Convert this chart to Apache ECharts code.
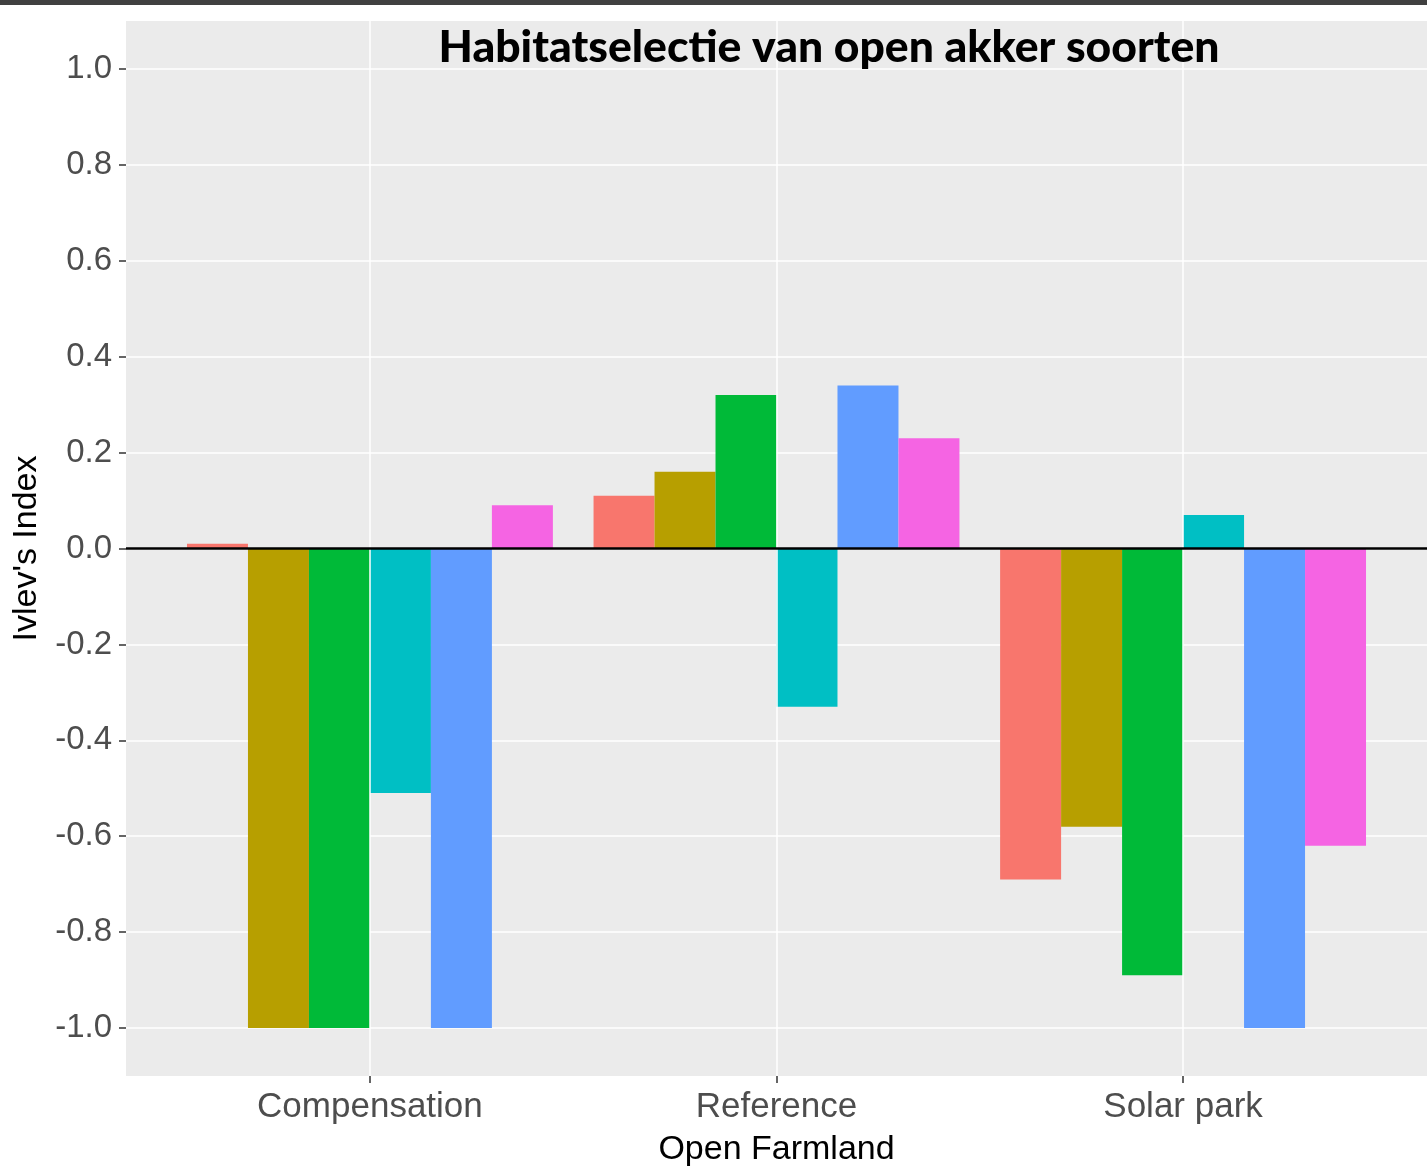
<!DOCTYPE html>
<html>
<head>
<meta charset="utf-8">
<script src="https://cdn.jsdelivr.net/npm/echarts@6/dist/echarts.min.js"></script>
<style>
html,body{margin:0;padding:0;background:#fff;}
#c{width:1427px;height:1166px;}
</style>
</head>
<body>
<div id="c"></div>
<script>
const categories = ['Compensation', 'Reference', 'Solar park'];
const seriesNames = ['Soort 1', 'Soort 2', 'Soort 3', 'Soort 4', 'Soort 5', 'Soort 6'];
const s1 = [0.01, 0.11, -0.69];
const s2 = [-1.0, 0.16, -0.58];
const s3 = [-1.0, 0.32, -0.89];
const s4 = [-0.51, -0.33, 0.07];
const s5 = [-1.0, 0.34, -1.0];
const s6 = [0.09, 0.23, -0.62];
const yTicks = [-1.0, -0.8, -0.6, -0.4, -0.2, 0.0, 0.2, 0.4, 0.6, 0.8, 1.0];
const colors = ['#F8766D', '#B79F00', '#00BA38', '#00BFC4', '#619CFF', '#F564E3'];
const allValues = [s1, s2, s3, s4, s5, s6];

const chart = echarts.init(document.getElementById('c'), null, {renderer: 'canvas'});

const barSeries = allValues.map((vals, k) => ({
  name: seriesNames[k],
  type: 'bar',
  z: 2,
  barGap: '0%',
  barCategoryGap: '10%',
  itemStyle: {color: colors[k]},
  data: categories.map((c, i) => [i, vals[i]])
}));

const option = {
  animation: false,
  title: {
    text: 'Habitatselectie van open akker soorten',
    left: 824,
    top: 20,
    textAlign: 'center',
    textStyle: {fontFamily: 'Lato', fontWeight: 900, fontSize: 44.5, color: '#000'}
  },
  graphic: [{
    type: 'rect', left: 0, top: 0, shape: {width: 1427, height: 5}, style: {fill: '#404040'}
  }],
  grid: {
    left: 126, right: 0, top: 21, bottom: 90,
    outerBoundsMode: 'none',
    containLabel: false,
    show: true, backgroundColor: '#EBEBEB', borderWidth: 0
  },
  xAxis: {
    type: 'value',
    min: -0.6, max: 2.6,
    name: 'Open Farmland',
    nameLocation: 'middle',
    nameGap: 57,
    nameTextStyle: {fontFamily: 'Liberation Sans', fontSize: 34, color: '#000'},
    axisLine: {show: false, onZero: false},
    splitLine: {show: false},
    axisTick: {show: true, customValues: [0, 1, 2], length: 7, lineStyle: {color: '#333', width: 1.5}},
    axisLabel: {
      customValues: [0, 1, 2],
      formatter: v => categories[Math.round(v)],
      fontFamily: 'Liberation Sans', fontSize: 35, color: '#4D4D4D', margin: 14
    }
  },
  yAxis: {
    type: 'value',
    min: -1.1, max: 1.1, interval: 0.1,
    name: "Ivlev's Index",
    nameLocation: 'middle',
    nameGap: 82,
    nameTextStyle: {fontFamily: 'Liberation Sans', fontSize: 34, color: '#000'},
    axisLine: {show: false, onZero: false},
    splitLine: {show: true, lineStyle: {color: '#FFFFFF', width: 1.5}},
    axisTick: {show: true, customValues: yTicks, length: 7, lineStyle: {color: '#333', width: 1.5}},
    axisLabel: {
      customValues: yTicks,
      formatter: v => Number(v).toFixed(1),
      fontFamily: 'Liberation Sans', fontSize: 33, color: '#4D4D4D', margin: 14
    }
  },
  series: [
    {
      type: 'line', data: [], z: 1, silent: true,
      markLine: {
        silent: true, symbol: 'none', label: {show: false},
        lineStyle: {color: '#FFFFFF', width: 1.5, type: 'solid'},
        data: categories.map((c, i) => ({xAxis: i}))
      }
    },
    ...barSeries,
    {
      type: 'line', data: [], z: 5, silent: true,
      markLine: {
        silent: true, symbol: 'none', label: {show: false},
        lineStyle: {color: '#000000', width: 2.5, type: 'solid'},
        data: [{yAxis: 0}]
      }
    }
  ]
};
chart.setOption(option);
</script>
</body>
</html>
